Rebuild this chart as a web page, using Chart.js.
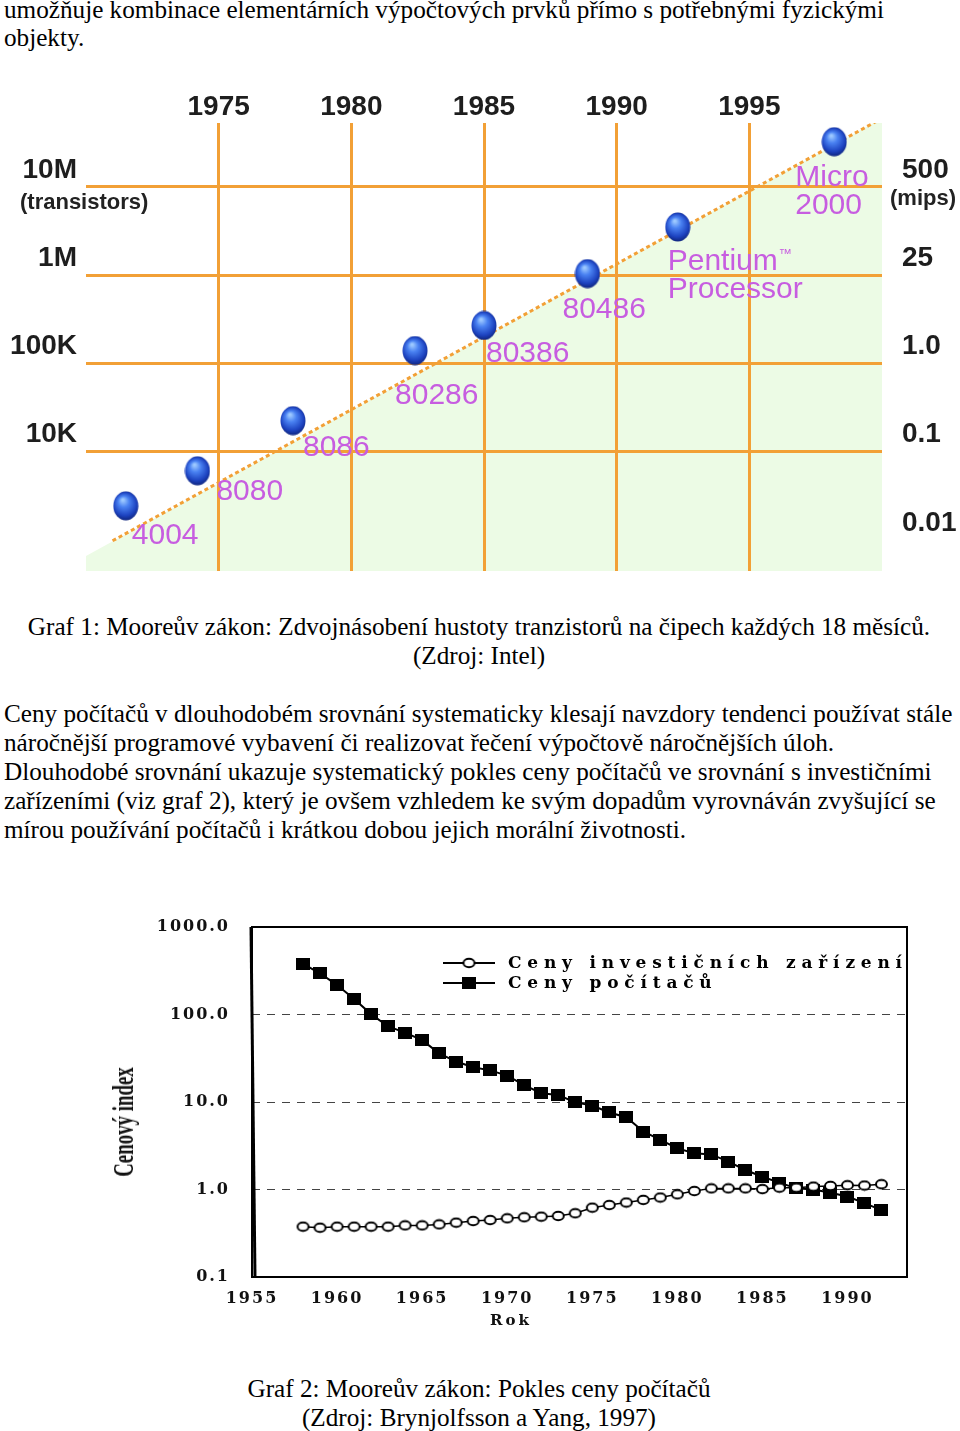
<!DOCTYPE html>
<html><head><meta charset="utf-8">
<script src="https://cdn.jsdelivr.net/npm/chart.js@4.4.1/dist/chart.umd.min.js"></script>
<style>
html,body{margin:0;padding:0;background:#fff;}
body{width:960px;height:1431px;position:relative;overflow:hidden;}
.t{position:absolute;font-family:"Liberation Serif","Times New Roman",serif;font-size:25.2px;line-height:29px;color:#000;white-space:nowrap;}
.c{left:0;width:958px;text-align:center;}
canvas{position:absolute;left:0;}
.sub{position:absolute;font-family:"Liberation Sans",Arial,sans-serif;font-weight:bold;font-size:22px;line-height:22px;color:#222;white-space:nowrap;}
.ax2{position:absolute;white-space:nowrap;color:#111;}
</style></head><body>

<div class="t" style="left:4px;top:-4px;line-height:28px">umožňuje kombinace elementárních výpočtových prvků přímo s potřebnými fyzickými<br>objekty.</div>

<canvas id="c1" width="960" height="505" style="top:80px"></canvas>
<span class="sub" style="left:20px;top:191px">(transistors)</span>
<span class="sub" style="left:890px;top:187px">(mips)</span>

<div class="t c" style="top:612px">Graf 1: Mooreův zákon: Zdvojnásobení hustoty tranzistorů na čipech každých 18 měsíců.<br>(Zdroj: Intel)</div>

<div class="t" style="left:4px;top:699px">Ceny počítačů v dlouhodobém srovnání systematicky klesají navzdory tendenci používat stále<br>náročnější programové vybavení či realizovat řečení výpočtově náročnějších úloh.<br>Dlouhodobé srovnání ukazuje systematický pokles ceny počítačů ve srovnání s investičními<br>zařízeními (viz graf 2), který je ovšem vzhledem ke svým dopadům vyrovnáván zvyšující se<br>mírou používání počítačů i krátkou dobou jejich morální životnosti.</div>

<canvas id="c2" width="960" height="450" style="top:890px"></canvas>
<div class="ax2" style="left:123px;top:1122px;font-family:'Liberation Serif',serif;font-weight:bold;font-size:29px;line-height:30px;transform:translate(-50%,-50%) rotate(-90deg) scaleX(0.65);">Cenový index</div>
<div class="ax2" style="left:511px;top:1320px;font-family:'DejaVu Serif',serif;font-weight:bold;font-size:15px;line-height:16px;letter-spacing:3px;transform:translate(-50%,-50%);">Rok</div>

<div class="t c" style="top:1374px">Graf 2: Mooreův zákon: Pokles ceny počítačů<br>(Zdroj: Brynjolfsson a Yang, 1997)</div>

<script>
// ---------- Chart 1 data (Intel) ----------
const chipNames = [['4004'], ['8080'], ['8086'], ['80286'], ['80386'], ['80486'], ['Pentium™', 'Processor'], ['Micro', '2000']];
const chipYears = [1971.5, 1974.2, 1977.8, 1982.4, 1985.0, 1988.9, 1992.3, 1998.2];
const chipTransistors = [2440, 6080, 22500, 140000, 269000, 1040000, 3510000, 32400000];
const trendYears = [1971.0, 2000.0];
const trendTransistors = [980, 59700000];
const areaYears = [1970.0, 2000.0];
const areaTransistors = [660, 59700000];
const xTicks1 = [1975, 1980, 1985, 1990, 1995];
const yTicks1 = [1e3, 1e4, 1e5, 1e6, 1e7];
const leftLabels1 = ['', '10K', '100K', '1M', '10M'];
const rightLabels1 = ['0.01', '0.1', '1.0', '25', '500'];

// ---------- Chart 2 data (price index) ----------
const years2 = [1958,1959,1960,1961,1962,1963,1964,1965,1966,1967,1968,1969,1970,1971,1972,1973,1974,1975,1976,1977,1978,1979,1980,1981,1982,1983,1984,1985,1986,1987,1988,1989,1990,1991,1992];
const equipmentIndex = [0.376,0.366,0.376,0.376,0.376,0.376,0.389,0.389,0.399,0.418,0.436,0.448,0.468,0.481,0.489,0.498,0.535,0.62,0.665,0.71,0.76,0.81,0.88,0.96,1.03,1.03,1.03,1.01,1.05,1.05,1.08,1.10,1.12,1.11,1.15];
const computerIndex = [378,296,217,150,101,73,62,51,36,29,25,23,20,15.6,12.6,12.0,9.9,9.1,7.6,6.7,4.6,3.7,2.96,2.59,2.52,2.08,1.67,1.40,1.20,1.03,1.0,0.92,0.83,0.70,0.58];
const seriesLabels2 = ['Ceny investičních zařízení', 'Ceny počítačů'];
const xTicks2 = [1955, 1960, 1965, 1970, 1975, 1980, 1985, 1990];
const yTicks2 = [0.1, 1, 10, 100, 1000];
const yLabels2 = ['0.1', '1.0', '10.0', '100.0', '1000.0'];

// ---------- styles ----------
const orange = '#f2a036';
const purple = '#c75de0';

function makeSphere() {
  const c = document.createElement('canvas'); c.width = 26; c.height = 30;
  const g = c.getContext('2d');
  const grd = g.createRadialGradient(10, 9, 1, 13, 15, 16);
  grd.addColorStop(0, '#9cc8ff');
  grd.addColorStop(0.3, '#4a82f2');
  grd.addColorStop(0.7, '#1d43c0');
  grd.addColorStop(1, '#0b1c6a');
  g.fillStyle = grd;
  g.beginPath(); g.ellipse(13, 15, 12.5, 14.5, 0, 0, Math.PI * 2); g.fill();
  return c;
}
function makeCircle() {
  const c = document.createElement('canvas'); c.width = 15; c.height = 12;
  const g = c.getContext('2d');
  g.fillStyle = '#fff'; g.strokeStyle = '#000'; g.lineWidth = 2;
  g.beginPath(); g.ellipse(7.5, 6, 5.5, 4.2, 0, 0, Math.PI * 2); g.fill(); g.stroke();
  return c;
}
function makeSquare() {
  const c = document.createElement('canvas'); c.width = 14; c.height = 12;
  const g = c.getContext('2d');
  g.fillStyle = '#000'; g.fillRect(0, 0, 14, 12);
  return c;
}
const labelOffsets1 = [[6, 30], [19, 21], [10, 27], [-20, 45], [2, 28], [-25, 36], [-10, 35], [-39, 36]];
const zeroPad = s => { s.paddingTop = 0; s.paddingBottom = 0; s.paddingLeft = 0; s.paddingRight = 0; };

const chipLabelPlugin = {
  id: 'chipLabels',
  afterDatasetsDraw(chart) {
    const ctx = chart.ctx;
    const meta = chart.getDatasetMeta(0);
    ctx.save();
    ctx.fillStyle = purple;
    ctx.textBaseline = 'middle';
    ctx.textAlign = 'left';
    const big = '30px "Liberation Sans", Arial, sans-serif';
    const small = '13px "Liberation Sans", Arial, sans-serif';
    meta.data.forEach((pt, i) => {
      const off = labelOffsets1[i];
      chipNames[i].forEach((ln, j) => {
        const x = pt.x + off[0], y = pt.y + off[1] + j * 28;
        const parts = ln.split('™');
        ctx.font = big;
        ctx.fillText(parts[0], x, y);
        if (parts.length > 1) {
          const w = ctx.measureText(parts[0]).width;
          ctx.font = small;
          ctx.fillText('™', x + w + 1, y - 8);
        }
      });
    });
    ctx.restore();
  }
};

const tickFont1 = { family: '"Liberation Sans", Arial, sans-serif', size: 28, weight: 'bold' };
const yMin1 = 446, yMax1 = 5.28e7;

new Chart(document.getElementById('c1'), {
  type: 'line',
  data: {
    datasets: [
      { label: 'chips', data: chipYears.map((x, i) => ({ x, y: chipTransistors[i] })), showLine: false,
        pointStyle: makeSphere(), pointRadius: 13, pointHoverRadius: 13 },
      { label: 'trend', data: trendYears.map((x, i) => ({ x, y: trendTransistors[i] })), borderColor: orange,
        borderWidth: 3, borderDash: [4, 3], pointRadius: 0, fill: false },
      { label: 'area', data: areaYears.map((x, i) => ({ x, y: areaTransistors[i] })), borderWidth: 0,
        borderColor: 'rgba(0,0,0,0)', pointRadius: 0, fill: 'start', backgroundColor: '#ecfbe5' }
    ]
  },
  options: {
    responsive: false, animation: false, events: [],
    layout: { padding: { left: 0, right: 0, top: 0, bottom: 5 } },
    plugins: { legend: { display: false }, tooltip: { enabled: false }, filler: { drawTime: 'beforeDraw' } },
    scales: {
      x: {
        type: 'linear', position: 'top', min: 1970, max: 2000,
        afterBuildTicks: s => { s.ticks = xTicks1.map(v => ({ value: v })); },
        afterFit: s => { s.height = 43; zeroPad(s); },
        grid: { color: orange, lineWidth: 3, drawTicks: false },
        border: { display: false },
        ticks: { padding: -1, font: tickFont1, color: '#1e1e1e', callback: v => String(v) }
      },
      y: {
        type: 'logarithmic', position: 'left', min: yMin1, max: yMax1,
        afterBuildTicks: s => { s.ticks = yTicks1.map(v => ({ value: v })); },
        afterFit: s => { s.width = 86; zeroPad(s); },
        grid: { color: c => (c.tick && c.tick.value === 1e3) ? 'rgba(0,0,0,0)' : orange, lineWidth: 3, drawTicks: false },
        border: { display: false },
        ticks: { padding: 9, labelOffset: -17, font: tickFont1, color: '#1e1e1e',
          callback: v => leftLabels1[yTicks1.indexOf(v)] }
      },
      y2: {
        type: 'logarithmic', position: 'right', min: yMin1, max: yMax1,
        afterBuildTicks: s => { s.ticks = yTicks1.map(v => ({ value: v })); },
        afterFit: s => { s.width = 78; zeroPad(s); },
        grid: { display: false },
        border: { display: false },
        ticks: { padding: 12, labelOffset: -17, font: tickFont1, color: '#1e1e1e',
          callback: v => rightLabels1[yTicks1.indexOf(v)] }
      }
    }
  },
  plugins: [chipLabelPlugin]
});

// ---------- Chart 2 ----------
const circleImg = makeCircle();
const squareImg = makeSquare();

const spacingPlugin = {
  id: 'spacing',
  beforeDraw(chart) { chart.ctx.letterSpacing = '2px'; },
  afterDraw(chart) { chart.ctx.letterSpacing = '0px'; }
};
const innerLegendPlugin = {
  id: 'innerLegend',
  afterDatasetsDraw(chart) {
    const ctx = chart.ctx, a = chart.chartArea;
    ctx.save();
    ctx.beginPath(); ctx.rect(a.left, a.top, a.right - a.left, a.bottom - a.top); ctx.clip();
    ctx.letterSpacing = '5.8px';
    ctx.font = 'bold 17px "DejaVu Serif", serif';
    ctx.fillStyle = '#000';
    ctx.textBaseline = 'middle';
    ctx.textAlign = 'left';
    chart.data.datasets.forEach((ds, i) => {
      const y = a.top + 36 + i * 20;
      const x0 = a.left + 191, x1 = a.left + 243, xm = (x0 + x1) / 2;
      ctx.strokeStyle = '#000'; ctx.lineWidth = 2;
      ctx.beginPath(); ctx.moveTo(x0, y); ctx.lineTo(x1, y); ctx.stroke();
      const img = ds.pointStyle;
      ctx.drawImage(img, xm - img.width / 2, y - img.height / 2);
      ctx.fillText(ds.label, a.left + 256, y + 1);
    });
    ctx.restore();
  }
};
const framePlugin = {
  id: 'frame',
  afterDraw(chart) {
    const ctx = chart.ctx, a = chart.chartArea;
    ctx.save();
    ctx.strokeStyle = '#000';
    ctx.lineWidth = 2;
    ctx.strokeRect(a.left, a.top, a.right - a.left, a.bottom - a.top);
    ctx.lineWidth = 3;
    ctx.beginPath(); ctx.moveTo(a.left - 1, a.top); ctx.lineTo(a.left + 3, a.bottom); ctx.stroke();
    ctx.restore();
  }
};
const tickFont2 = { family: '"DejaVu Serif", serif', size: 16, weight: 'bold' };

new Chart(document.getElementById('c2'), {
  type: 'line',
  data: {
    datasets: [
      { label: seriesLabels2[0], data: years2.map((x, i) => ({ x, y: equipmentIndex[i] })), borderColor: '#000',
        borderWidth: 1.5, pointStyle: circleImg, pointRadius: 6, fill: false },
      { label: seriesLabels2[1], data: years2.map((x, i) => ({ x, y: computerIndex[i] })), borderColor: '#000',
        borderWidth: 2, pointStyle: squareImg, pointRadius: 7, fill: false }
    ]
  },
  options: {
    responsive: false, animation: false, events: [],
    layout: { padding: { left: 0, right: 53, top: 37, bottom: 0 } },
    plugins: { legend: { display: false }, tooltip: { enabled: false } },
    scales: {
      x: {
        type: 'linear', min: 1955, max: 1993.5,
        afterBuildTicks: s => { s.ticks = xTicks2.map(v => ({ value: v })); },
        afterFit: s => { s.height = 63; zeroPad(s); },
        grid: { display: false },
        border: { display: false },
        ticks: { padding: 4, font: tickFont2, color: '#111', callback: v => String(v) }
      },
      y: {
        type: 'logarithmic', min: 0.1, max: 1000,
        afterBuildTicks: s => { s.ticks = yTicks2.map(v => ({ value: v })); },
        afterFit: s => { s.width = 252; zeroPad(s); },
        grid: { color: c => (c.tick && (c.tick.value === 0.1 || c.tick.value === 1000)) ? 'rgba(0,0,0,0)' : '#444',
          lineWidth: 1, drawTicks: false },
        border: { display: false, dash: [8, 7] },
        ticks: { padding: 22, font: tickFont2, color: '#111',
          callback: v => yLabels2[yTicks2.indexOf(v)] }
      }
    }
  },
  plugins: [spacingPlugin, innerLegendPlugin, framePlugin]
});
</script>
</body></html>
